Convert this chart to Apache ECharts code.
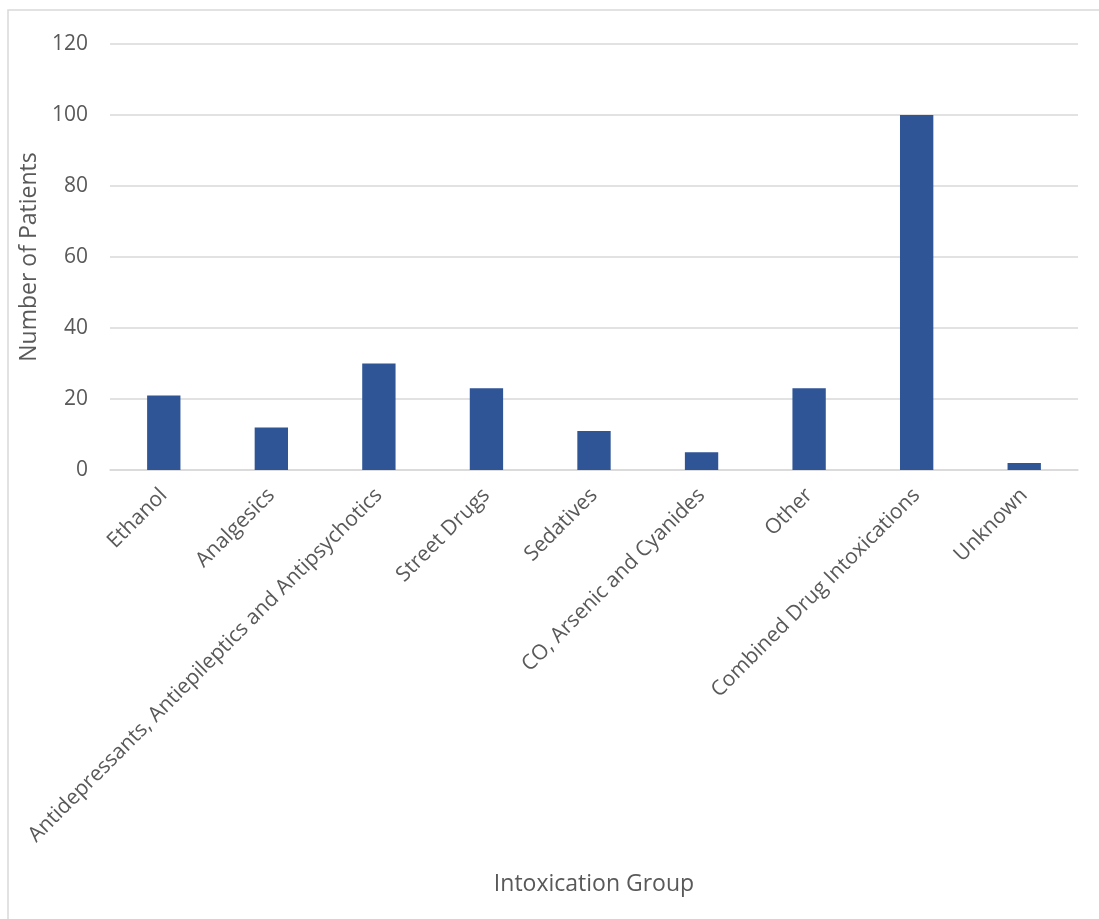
<!DOCTYPE html>
<html><head><meta charset="utf-8">
<script src="https://cdn.jsdelivr.net/npm/echarts@6/dist/echarts.min.js"></script>
<style>html,body{margin:0;padding:0;background:#fff}#c{width:1099px;height:919px}</style>
</head><body><div id="c"></div>
<script>
const categories = ["Ethanol","Analgesics","Antidepressants, Antiepileptics and Antipsychotics","Street Drugs","Sedatives","CO, Arsenic and Cyanides","Other","Combined Drug Intoxications","Unknown"];
const patients = [21,12,30,23,11,5,23,100,2];
const yTicks = [0,20,40,60,80,100,120];
const xTitle = "Intoxication Group";
const yTitle = "Number of Patients";

const font = "'Open Sans', 'Liberation Sans', sans-serif";
const chart = echarts.init(document.getElementById('c'));
chart.setOption({
  animation:false,
  backgroundColor:'#fff',
  graphic:[{type:'rect',shape:{x:8,y:10,width:1100,height:920},style:{fill:'none',stroke:'#d9d9d9',lineWidth:1.5},silent:true}],
  grid:{left:110,right:21,top:44,bottom:449,containLabel:false},
  xAxis:{type:'category',data:categories,
    axisLine:{lineStyle:{color:'#d9d9d9',width:1.5}},axisTick:{show:false},
    axisLabel:{rotate:45,color:'#595959',fontSize:21,fontFamily:font,interval:0,margin:22},
    name:xTitle,nameLocation:'middle',nameGap:403,nameTextStyle:{color:'#595959',fontSize:23,fontFamily:font}},
  yAxis:{type:'value',min:yTicks[0],max:yTicks[yTicks.length-1],interval:20,
    axisLine:{show:false},axisTick:{show:false},
    splitLine:{lineStyle:{color:'#d9d9d9',width:1.5}},
    axisLabel:{color:'#595959',fontSize:21,fontFamily:font,margin:22},
    name:yTitle,nameLocation:'middle',nameGap:68,nameRotate:90,nameTextStyle:{color:'#595959',fontSize:23,fontFamily:font}},
  series:[{type:'bar',data:patients,barWidth:'31%',itemStyle:{color:'#2f5597'}}]
});
</script></body></html>
